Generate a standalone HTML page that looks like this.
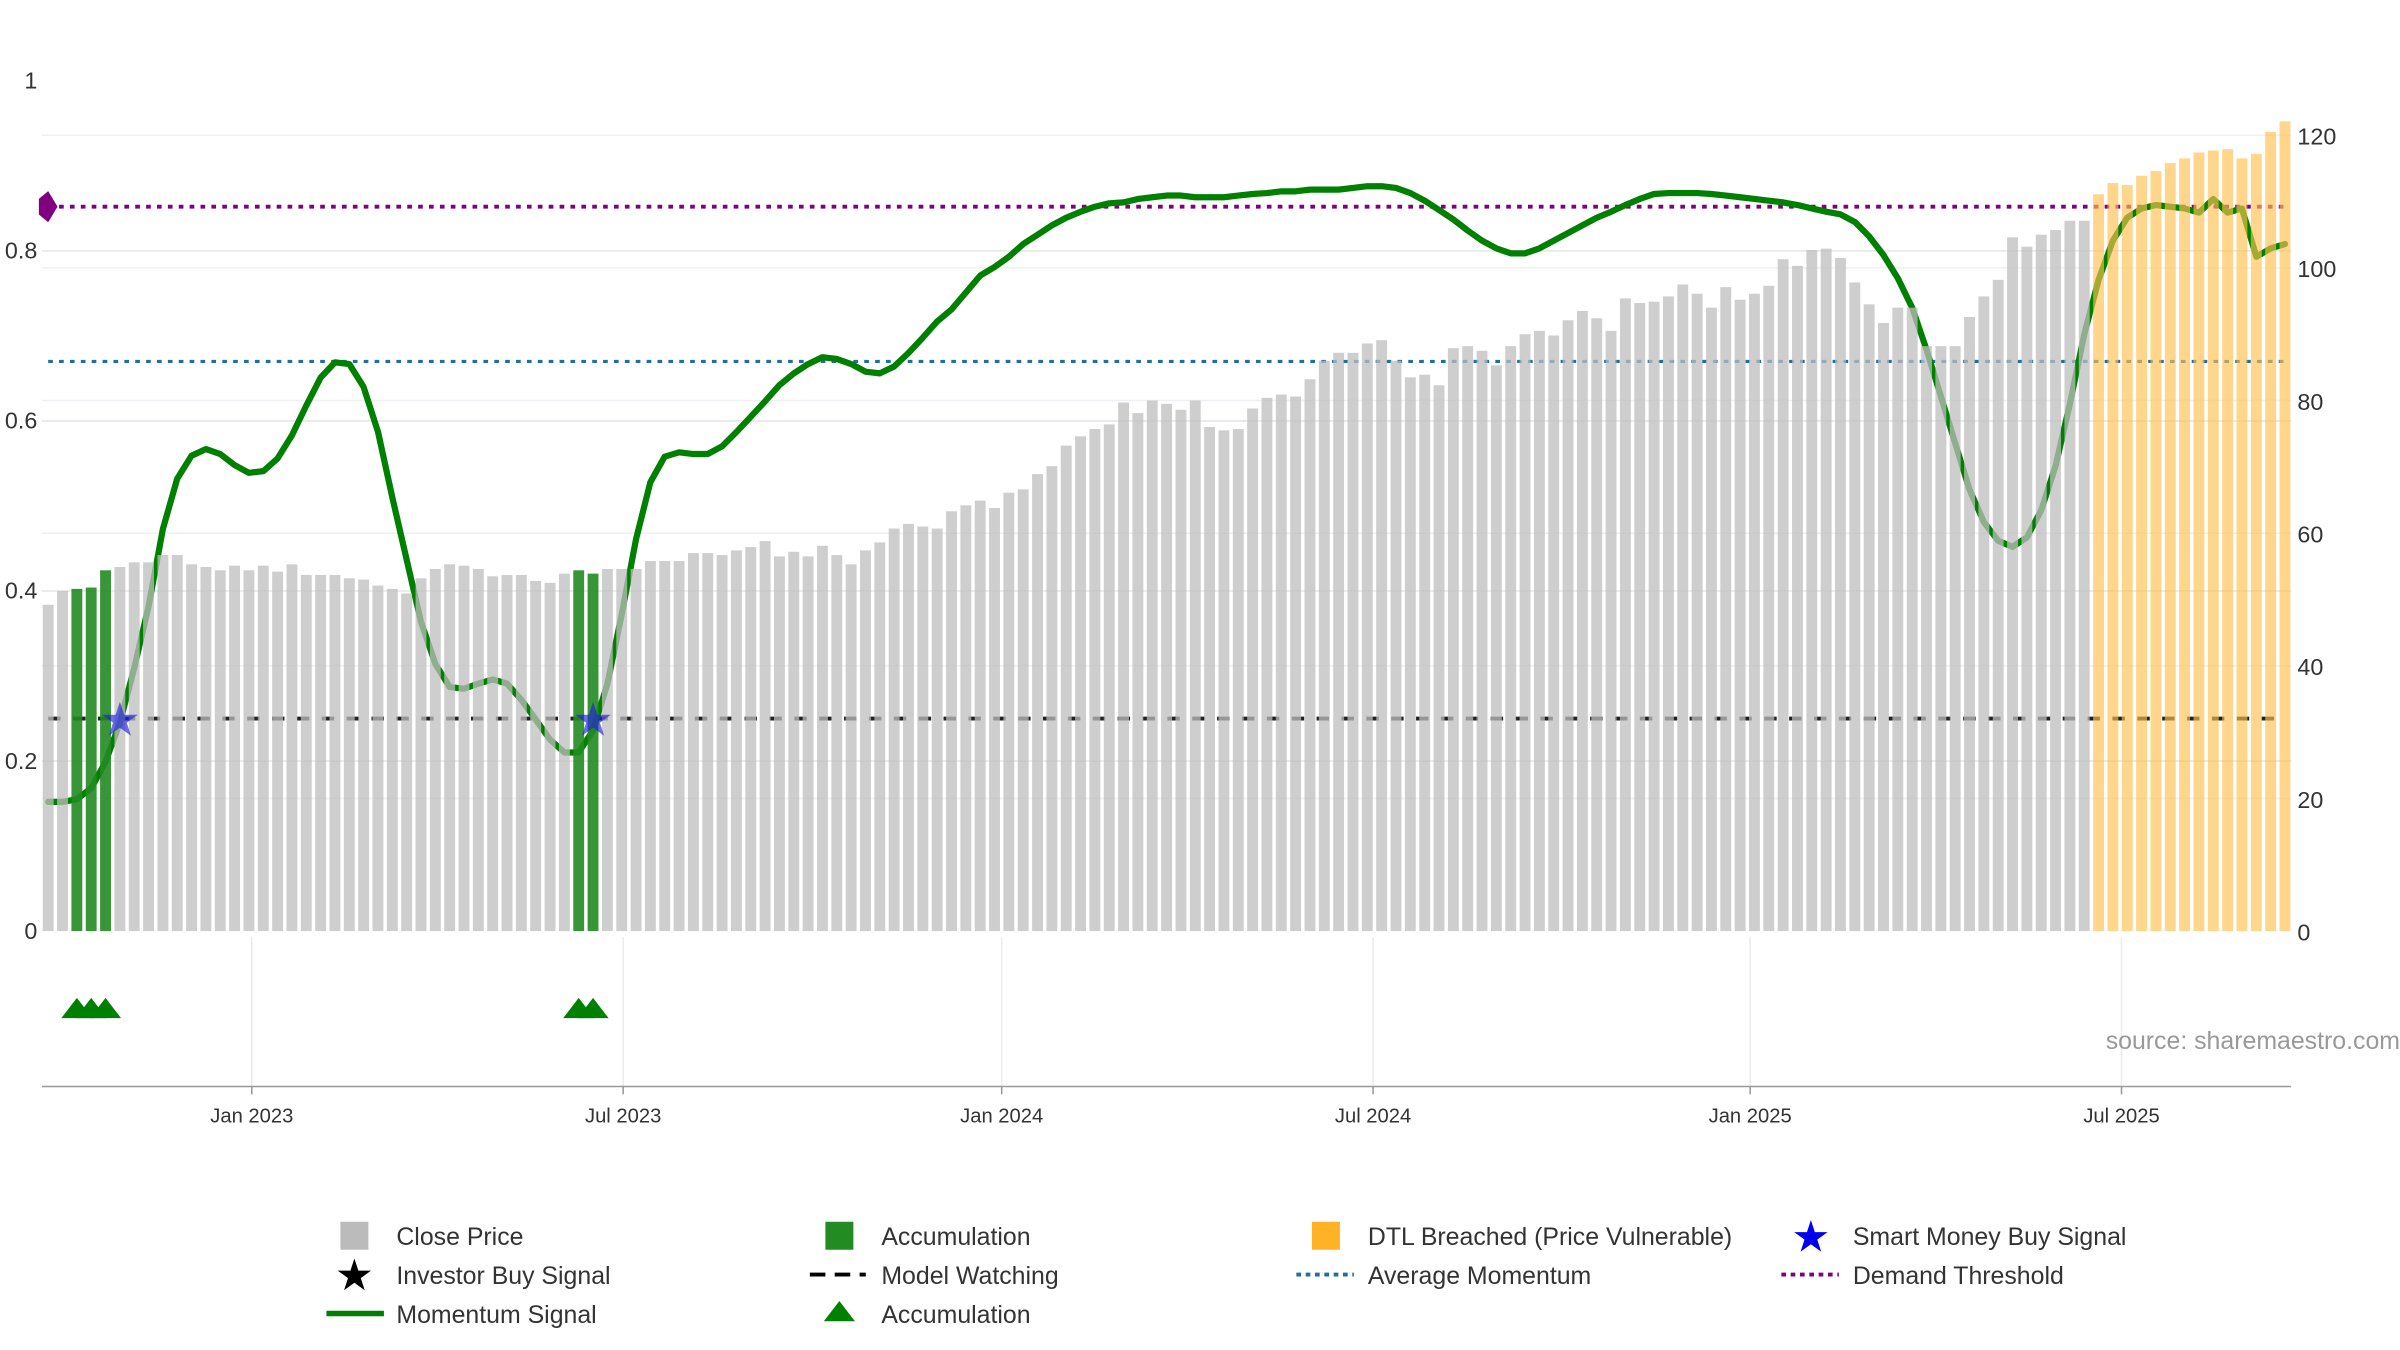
<!DOCTYPE html>
<html><head><meta charset="utf-8">
<style>
html,body{margin:0;padding:0;background:#fff;}
svg{display:block;font-family:"Liberation Sans","DejaVu Sans",sans-serif;}
</style></head>
<body>
<svg id="chart" width="2400" height="1350" viewBox="0 0 1544 868.5" xmlns="http://www.w3.org/2000/svg">
<g id="grid"></g>
<g id="refs"></g>
<g id="lineLayer"></g>
<g id="bars"></g>
<g id="markers"></g>
<g id="axes"></g>
<text x="1544" y="675" text-anchor="end" font-size="16" fill="#999">source: sharemaestro.com</text>
<g id="legend">
  <g><rect x="219" y="786" width="18" height="18" fill="#bbb"/><text x="255" y="801" font-size="16" fill="#333">Close Price</text></g>
  <g><text x="228" y="830" font-size="28" text-anchor="middle" fill="#000">★</text><text x="255" y="826" font-size="16" fill="#333">Investor Buy Signal</text></g>
  <g><line x1="210" y1="845" x2="247" y2="845" stroke="#008000" stroke-width="3.5"/><text x="255" y="851" font-size="16" fill="#333">Momentum Signal</text></g>
  <g><rect x="531" y="786" width="18" height="18" fill="#228b22"/><text x="567" y="801" font-size="16" fill="#333">Accumulation</text></g>
  <g><line x1="521" y1="820" x2="557" y2="820" stroke="#000" stroke-width="2.5" stroke-dasharray="10,6"/><text x="567" y="826" font-size="16" fill="#333">Model Watching</text></g>
  <g><polygon points="530,850 540,837 550,850" fill="#008000"/><text x="567" y="851" font-size="16" fill="#333">Accumulation</text></g>
  <g><rect x="844" y="786" width="18" height="18" fill="#ffa500" opacity="0.85"/><text x="880" y="801" font-size="16" fill="#333">DTL Breached (Price Vulnerable)</text></g>
  <g><line x1="834" y1="820" x2="871" y2="820" stroke="#1f6f9f" stroke-width="2.5" stroke-dasharray="3,3"/><text x="880" y="826" font-size="16" fill="#333">Average Momentum</text></g>
  <g><text x="1165" y="805" font-size="28" text-anchor="middle" fill="#0000ee">★</text><text x="1192" y="801" font-size="16" fill="#333">Smart Money Buy Signal</text></g>
  <g><line x1="1146" y1="820" x2="1183" y2="820" stroke="#800080" stroke-width="2.5" stroke-dasharray="3,3"/><text x="1192" y="826" font-size="16" fill="#333">Demand Threshold</text></g>
</g>
</svg>
<script>
const closePrices = [49.2,51.3,51.6,51.8,54.4,54.9,55.6,55.6,56.7,56.7,
55.3,54.9,54.4,55.1,54.4,55.1,54.2,55.3,53.7,53.7,
53.7,53.2,53.0,52.1,51.6,50.9,53.2,54.6,55.3,55.1,
54.6,53.5,53.7,53.7,52.8,52.5,53.9,54.4,53.9,54.6,
54.6,54.6,55.8,55.8,55.8,57.0,57.0,56.7,57.4,57.9,
58.8,56.5,57.2,56.5,58.1,56.7,55.3,57.4,58.6,60.7,
61.4,61.0,60.7,63.3,64.2,64.9,63.8,66.1,66.6,68.9,
70.1,73.2,74.6,75.7,76.4,79.7,78.1,80.0,79.5,78.6,
80.0,76.0,75.5,75.7,78.8,80.4,80.9,80.6,83.2,86.0,
87.2,87.2,88.6,89.1,86.0,83.5,83.9,82.3,87.9,88.2,
87.5,85.3,88.2,90.0,90.5,89.8,92.1,93.5,92.4,90.5,
95.4,94.7,94.9,95.7,97.5,96.1,94.0,97.1,95.2,96.1,
97.3,101.3,100.3,102.7,102.9,101.5,97.8,94.5,91.7,94.0,
94.0,88.2,88.2,88.2,92.6,95.7,98.2,104.6,103.2,105.0,
105.7,107.1,107.1,111.1,112.8,112.5,113.9,114.6,115.8,116.5,
117.4,117.7,117.9,116.5,117.2,120.5,122.1];
const momentum = [.152,.152,.155,.168,.199,.245,.309,.382,.473,.532,
.559,.567,.561,.548,.539,.541,.556,.583,.618,.651,
.669,.667,.640,.587,.510,.437,.364,.314,.287,.285,
.291,.296,.291,.272,.249,.225,.210,.210,.236,.291,
.373,.461,.528,.558,.563,.561,.561,.570,.587,.605,
.623,.642,.656,.667,.675,.673,.667,.658,.656,.664,
.680,.698,.717,.731,.751,.771,.781,.793,.808,.819,
.830,.839,.846,.852,.856,.857,.861,.863,.865,.865,
.863,.863,.863,.865,.867,.868,.870,.870,.872,.872,
.872,.874,.876,.876,.874,.868,.859,.848,.837,.824,
.812,.803,.797,.797,.803,.812,.821,.830,.839,.846,
.854,.861,.867,.868,.868,.868,.867,.865,.863,.861,
.859,.857,.854,.850,.846,.843,.834,.817,.795,.768,
.733,.684,.629,.574,.519,.481,.459,.452,.463,.495,
.547,.620,.702,.766,.812,.839,.850,.854,.852,.850,
.845,.861,.845,.850,.793,.803,.808];
const accumulationIdx = [2,3,4,37,38];
const smartMoneyIdx = [5,38];
const dtlStartIdx = 143;
const avgMomentum = 0.67;
const demandThreshold = 0.852;
const modelWatching = 0.25;
const leftTicks = [0,0.2,0.4,0.6,0.8,1];
const leftTickLabels = ["0","0.2","0.4","0.6","0.8","1"];
const rightTicks = [0,20,40,60,80,100,120];
const dateTickIdx = [14.2,40.1,66.5,92.4,118.7,144.6];
const dateTickLabels = ["Jan 2023","Jul 2023","Jan 2024","Jul 2024","Jan 2025","Jul 2025"];

const NS="http://www.w3.org/2000/svg";
const X0=31, X1=1470, Y0=599;
const n=closePrices.length;
function xAt(i){return X0+i*(X1-X0)/(n-1);}
function yL(v){return Y0-v*547;}
function yR(v){return Y0-v*(512/120);}
function mk(tag,attrs,parent){const e=document.createElementNS(NS,tag);for(const k in attrs)e.setAttribute(k,attrs[k]);parent.appendChild(e);return e;}
const grid=document.getElementById('grid'),lineL=document.getElementById('lineLayer'),bars=document.getElementById('bars'),refs=document.getElementById('refs'),markers=document.getElementById('markers'),axes=document.getElementById('axes');

leftTicks.forEach((t,k)=>{
  if(t>0&&t<1){const g=mk('line',{x1:27,x2:1474,y1:yL(t),y2:yL(t),stroke:'#e6e6e6','stroke-width':1},grid);
  
  }
  const tx=mk('text',{x:24,y:yL(t)+5,'text-anchor':'end','font-size':15,fill:'#333'},axes);
  tx.textContent=leftTickLabels[k];
  
  
});
rightTicks.forEach(t=>{
  if(t>0){const g=mk('line',{x1:27,x2:1474,y1:yR(t),y2:yR(t),stroke:'#eef0f4','stroke-width':1},grid);
  
  }
  const tx=mk('text',{x:1478,y:yR(t)+6,'font-size':15,fill:'#333'},axes);
  tx.textContent=String(t);
  
  
});
dateTickIdx.forEach((d,k)=>{
  const x=xAt(d);
  const g=mk('line',{x1:x,x2:x,y1:603,y2:699,stroke:'#ececec','stroke-width':1},grid);
  
  
  const tk=mk('line',{x1:x,x2:x,y1:699,y2:704,stroke:'#999','stroke-width':1},axes);
  
  
  const tx=mk('text',{x:x,y:722,'text-anchor':'middle','font-size':13,fill:'#333'},axes);
  tx.textContent=dateTickLabels[k];
  
  
});
const ax=mk('line',{x1:27,x2:1474,y1:699,y2:699,stroke:'#999','stroke-width':1},axes);



const pts=momentum.map((v,i)=>xAt(i).toFixed(1)+','+yL(v).toFixed(1)).join(' ');
const pl=mk('polyline',{points:pts,fill:'none',stroke:'#008000','stroke-width':4,'stroke-linejoin':'round','stroke-linecap':'round'},lineL);



const bw=7;
closePrices.forEach((v,i)=>{
  let fill='#bdbdbd',op=0.75;
  if(accumulationIdx.includes(i)){fill='#228b22';op=0.9;}
  else if(i>=dtlStartIdx){fill='#ffc04d';op=0.65;}
  const r=mk('rect',{x:xAt(i)-bw/2,y:yR(v),width:bw,height:Y0-yR(v),fill:fill,opacity:op},bars);
  
  
});

function hline(v,color,dash,name,w){
  const l=mk('line',{x1:31,x2:1470,y1:yL(v),y2:yL(v),stroke:color,'stroke-width':w,'stroke-dasharray':dash},refs);
  
  
}
hline(demandThreshold,'#800080','3,4','demand-threshold-line',2.5);
hline(avgMomentum,'#1f6f9f','3,4','average-momentum-line',2);
hline(modelWatching,'#222','8,8','model-watching-line',2.5);
const dm=mk('polygon',{points:`25,${yL(demandThreshold)-5} 31,${yL(demandThreshold)-10} 37,${yL(demandThreshold)} 31,${yL(demandThreshold)+10} 25,${yL(demandThreshold)+5}`,fill:'#800080'},markers);



smartMoneyIdx.forEach(i=>{
  const s=mk('text',{x:xAt(i),y:yL(modelWatching)+11,'text-anchor':'middle','font-size':30,fill:'#2020dd',opacity:0.65},markers);
  s.textContent='★';
  
  
});
accumulationIdx.forEach(i=>{
  const x=xAt(i);
  const t=mk('polygon',{points:`${x-10},655 ${x},642 ${x+10},655`,fill:'#008000'},markers);
  
  
});
</script>
</body></html>
